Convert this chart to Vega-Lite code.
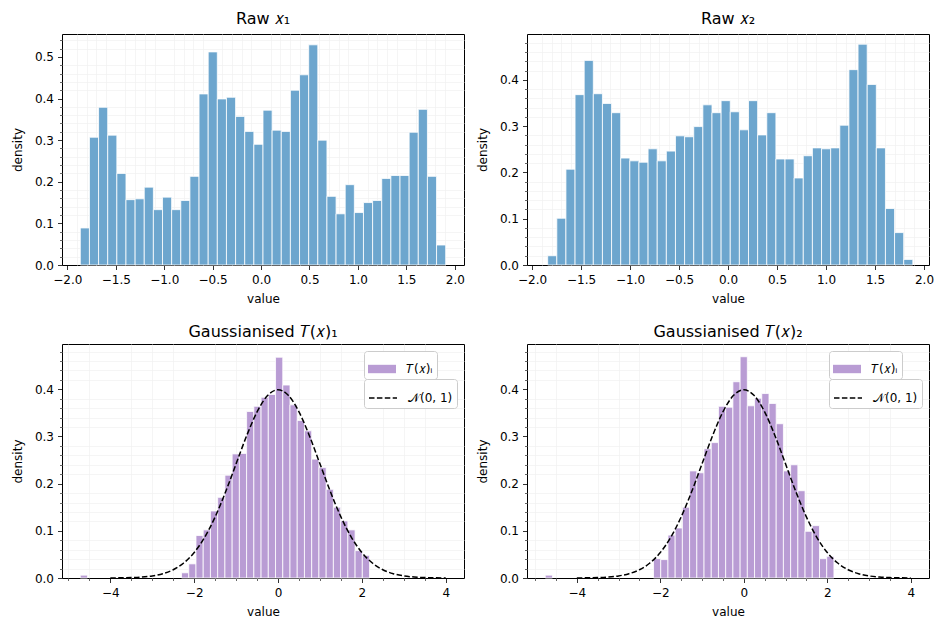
{
  "$schema": "https://vega.github.io/schema/vega-lite/v6.json",
  "padding": {"left": 10, "top": 10, "right": 5, "bottom": 5},
  "bounds": "flush",
  "columns": 2,
  "spacing": {"row": 79, "column": 63},
  "datasets": {
    "hist": [
      {"panel": "raw1", "bin_start": -1.866, "bin_end": -1.7717, "density": 0.089},
      {"panel": "raw1", "bin_start": -1.7717, "bin_end": -1.6774, "density": 0.307},
      {"panel": "raw1", "bin_start": -1.6774, "bin_end": -1.5831, "density": 0.379},
      {"panel": "raw1", "bin_start": -1.5831, "bin_end": -1.4888, "density": 0.312},
      {"panel": "raw1", "bin_start": -1.4888, "bin_end": -1.3945, "density": 0.220},
      {"panel": "raw1", "bin_start": -1.3945, "bin_end": -1.3002, "density": 0.157},
      {"panel": "raw1", "bin_start": -1.3002, "bin_end": -1.2059, "density": 0.159},
      {"panel": "raw1", "bin_start": -1.2059, "bin_end": -1.1116, "density": 0.187},
      {"panel": "raw1", "bin_start": -1.1116, "bin_end": -1.0173, "density": 0.133},
      {"panel": "raw1", "bin_start": -1.0173, "bin_end": -0.923, "density": 0.163},
      {"panel": "raw1", "bin_start": -0.923, "bin_end": -0.8287, "density": 0.133},
      {"panel": "raw1", "bin_start": -0.8287, "bin_end": -0.7344, "density": 0.155},
      {"panel": "raw1", "bin_start": -0.7344, "bin_end": -0.6401, "density": 0.213},
      {"panel": "raw1", "bin_start": -0.6401, "bin_end": -0.5458, "density": 0.411},
      {"panel": "raw1", "bin_start": -0.5458, "bin_end": -0.4515, "density": 0.512},
      {"panel": "raw1", "bin_start": -0.4515, "bin_end": -0.3572, "density": 0.399},
      {"panel": "raw1", "bin_start": -0.3572, "bin_end": -0.2629, "density": 0.403},
      {"panel": "raw1", "bin_start": -0.2629, "bin_end": -0.1686, "density": 0.357},
      {"panel": "raw1", "bin_start": -0.1686, "bin_end": -0.0743, "density": 0.321},
      {"panel": "raw1", "bin_start": -0.0743, "bin_end": 0.02, "density": 0.290},
      {"panel": "raw1", "bin_start": 0.02, "bin_end": 0.1143, "density": 0.372},
      {"panel": "raw1", "bin_start": 0.1143, "bin_end": 0.2086, "density": 0.324},
      {"panel": "raw1", "bin_start": 0.2086, "bin_end": 0.3029, "density": 0.321},
      {"panel": "raw1", "bin_start": 0.3029, "bin_end": 0.3972, "density": 0.420},
      {"panel": "raw1", "bin_start": 0.3972, "bin_end": 0.4915, "density": 0.457},
      {"panel": "raw1", "bin_start": 0.4915, "bin_end": 0.5858, "density": 0.529},
      {"panel": "raw1", "bin_start": 0.5858, "bin_end": 0.6801, "density": 0.300},
      {"panel": "raw1", "bin_start": 0.6801, "bin_end": 0.7744, "density": 0.165},
      {"panel": "raw1", "bin_start": 0.7744, "bin_end": 0.8687, "density": 0.123},
      {"panel": "raw1", "bin_start": 0.8687, "bin_end": 0.963, "density": 0.193},
      {"panel": "raw1", "bin_start": 0.963, "bin_end": 1.0573, "density": 0.126},
      {"panel": "raw1", "bin_start": 1.0573, "bin_end": 1.1516, "density": 0.150},
      {"panel": "raw1", "bin_start": 1.1516, "bin_end": 1.2459, "density": 0.155},
      {"panel": "raw1", "bin_start": 1.2459, "bin_end": 1.3402, "density": 0.208},
      {"panel": "raw1", "bin_start": 1.3402, "bin_end": 1.4345, "density": 0.215},
      {"panel": "raw1", "bin_start": 1.4345, "bin_end": 1.5288, "density": 0.215},
      {"panel": "raw1", "bin_start": 1.5288, "bin_end": 1.6231, "density": 0.319},
      {"panel": "raw1", "bin_start": 1.6231, "bin_end": 1.7174, "density": 0.374},
      {"panel": "raw1", "bin_start": 1.7174, "bin_end": 1.8117, "density": 0.213},
      {"panel": "raw1", "bin_start": 1.8117, "bin_end": 1.906, "density": 0.048},

      {"panel": "raw2", "bin_start": -1.84, "bin_end": -1.7469, "density": 0.020},
      {"panel": "raw2", "bin_start": -1.7469, "bin_end": -1.6537, "density": 0.101},
      {"panel": "raw2", "bin_start": -1.6537, "bin_end": -1.5606, "density": 0.207},
      {"panel": "raw2", "bin_start": -1.5606, "bin_end": -1.4674, "density": 0.368},
      {"panel": "raw2", "bin_start": -1.4674, "bin_end": -1.3743, "density": 0.442},
      {"panel": "raw2", "bin_start": -1.3743, "bin_end": -1.2811, "density": 0.370},
      {"panel": "raw2", "bin_start": -1.2811, "bin_end": -1.188, "density": 0.349},
      {"panel": "raw2", "bin_start": -1.188, "bin_end": -1.0948, "density": 0.329},
      {"panel": "raw2", "bin_start": -1.0948, "bin_end": -1.0017, "density": 0.231},
      {"panel": "raw2", "bin_start": -1.0017, "bin_end": -0.9085, "density": 0.225},
      {"panel": "raw2", "bin_start": -0.9085, "bin_end": -0.8154, "density": 0.222},
      {"panel": "raw2", "bin_start": -0.8154, "bin_end": -0.7222, "density": 0.251},
      {"panel": "raw2", "bin_start": -0.7222, "bin_end": -0.6291, "density": 0.225},
      {"panel": "raw2", "bin_start": -0.6291, "bin_end": -0.5359, "density": 0.246},
      {"panel": "raw2", "bin_start": -0.5359, "bin_end": -0.4428, "density": 0.279},
      {"panel": "raw2", "bin_start": -0.4428, "bin_end": -0.3496, "density": 0.277},
      {"panel": "raw2", "bin_start": -0.3496, "bin_end": -0.2565, "density": 0.299},
      {"panel": "raw2", "bin_start": -0.2565, "bin_end": -0.1633, "density": 0.346},
      {"panel": "raw2", "bin_start": -0.1633, "bin_end": -0.0702, "density": 0.329},
      {"panel": "raw2", "bin_start": -0.0702, "bin_end": 0.023, "density": 0.355},
      {"panel": "raw2", "bin_start": 0.023, "bin_end": 0.1162, "density": 0.331},
      {"panel": "raw2", "bin_start": 0.1162, "bin_end": 0.2093, "density": 0.292},
      {"panel": "raw2", "bin_start": 0.2093, "bin_end": 0.3025, "density": 0.355},
      {"panel": "raw2", "bin_start": 0.3025, "bin_end": 0.3956, "density": 0.281},
      {"panel": "raw2", "bin_start": 0.3956, "bin_end": 0.4888, "density": 0.329},
      {"panel": "raw2", "bin_start": 0.4888, "bin_end": 0.5819, "density": 0.229},
      {"panel": "raw2", "bin_start": 0.5819, "bin_end": 0.6751, "density": 0.229},
      {"panel": "raw2", "bin_start": 0.6751, "bin_end": 0.7682, "density": 0.188},
      {"panel": "raw2", "bin_start": 0.7682, "bin_end": 0.8614, "density": 0.236},
      {"panel": "raw2", "bin_start": 0.8614, "bin_end": 0.9545, "density": 0.253},
      {"panel": "raw2", "bin_start": 0.9545, "bin_end": 1.0477, "density": 0.251},
      {"panel": "raw2", "bin_start": 1.0477, "bin_end": 1.1408, "density": 0.253},
      {"panel": "raw2", "bin_start": 1.1408, "bin_end": 1.234, "density": 0.302},
      {"panel": "raw2", "bin_start": 1.234, "bin_end": 1.3271, "density": 0.422},
      {"panel": "raw2", "bin_start": 1.3271, "bin_end": 1.4203, "density": 0.477},
      {"panel": "raw2", "bin_start": 1.4203, "bin_end": 1.5134, "density": 0.390},
      {"panel": "raw2", "bin_start": 1.5134, "bin_end": 1.6066, "density": 0.253},
      {"panel": "raw2", "bin_start": 1.6066, "bin_end": 1.6997, "density": 0.122},
      {"panel": "raw2", "bin_start": 1.6997, "bin_end": 1.7929, "density": 0.070},
      {"panel": "raw2", "bin_start": 1.7929, "bin_end": 1.886, "density": 0.012},

      {"panel": "gauss1", "bin_start": -4.717, "bin_end": -4.5445, "density": 0.006},
      {"panel": "gauss1", "bin_start": -2.302, "bin_end": -2.1295, "density": 0.011},
      {"panel": "gauss1", "bin_start": -2.1295, "bin_end": -1.957, "density": 0.030},
      {"panel": "gauss1", "bin_start": -1.957, "bin_end": -1.7845, "density": 0.090},
      {"panel": "gauss1", "bin_start": -1.7845, "bin_end": -1.612, "density": 0.102},
      {"panel": "gauss1", "bin_start": -1.612, "bin_end": -1.4395, "density": 0.142},
      {"panel": "gauss1", "bin_start": -1.4395, "bin_end": -1.267, "density": 0.171},
      {"panel": "gauss1", "bin_start": -1.267, "bin_end": -1.0945, "density": 0.218},
      {"panel": "gauss1", "bin_start": -1.0945, "bin_end": -0.922, "density": 0.263},
      {"panel": "gauss1", "bin_start": -0.922, "bin_end": -0.7495, "density": 0.264},
      {"panel": "gauss1", "bin_start": -0.7495, "bin_end": -0.577, "density": 0.353},
      {"panel": "gauss1", "bin_start": -0.577, "bin_end": -0.4045, "density": 0.364},
      {"panel": "gauss1", "bin_start": -0.4045, "bin_end": -0.232, "density": 0.383},
      {"panel": "gauss1", "bin_start": -0.232, "bin_end": -0.0595, "density": 0.389},
      {"panel": "gauss1", "bin_start": -0.0595, "bin_end": 0.113, "density": 0.468},
      {"panel": "gauss1", "bin_start": 0.113, "bin_end": 0.2855, "density": 0.409},
      {"panel": "gauss1", "bin_start": 0.2855, "bin_end": 0.458, "density": 0.367},
      {"panel": "gauss1", "bin_start": 0.458, "bin_end": 0.6305, "density": 0.334},
      {"panel": "gauss1", "bin_start": 0.6305, "bin_end": 0.803, "density": 0.312},
      {"panel": "gauss1", "bin_start": 0.803, "bin_end": 0.9755, "density": 0.252},
      {"panel": "gauss1", "bin_start": 0.9755, "bin_end": 1.148, "density": 0.234},
      {"panel": "gauss1", "bin_start": 1.148, "bin_end": 1.3205, "density": 0.188},
      {"panel": "gauss1", "bin_start": 1.3205, "bin_end": 1.493, "density": 0.150},
      {"panel": "gauss1", "bin_start": 1.493, "bin_end": 1.6655, "density": 0.121},
      {"panel": "gauss1", "bin_start": 1.6655, "bin_end": 1.838, "density": 0.102},
      {"panel": "gauss1", "bin_start": 1.838, "bin_end": 2.0105, "density": 0.058},
      {"panel": "gauss1", "bin_start": 2.0105, "bin_end": 2.183, "density": 0.048},

      {"panel": "gauss2", "bin_start": -4.756, "bin_end": -4.5831, "density": 0.006},
      {"panel": "gauss2", "bin_start": -2.1625, "bin_end": -1.9896, "density": 0.041},
      {"panel": "gauss2", "bin_start": -1.9896, "bin_end": -1.8167, "density": 0.039},
      {"panel": "gauss2", "bin_start": -1.8167, "bin_end": -1.6438, "density": 0.091},
      {"panel": "gauss2", "bin_start": -1.6438, "bin_end": -1.4709, "density": 0.106},
      {"panel": "gauss2", "bin_start": -1.4709, "bin_end": -1.298, "density": 0.150},
      {"panel": "gauss2", "bin_start": -1.298, "bin_end": -1.1251, "density": 0.227},
      {"panel": "gauss2", "bin_start": -1.1251, "bin_end": -0.9522, "density": 0.223},
      {"panel": "gauss2", "bin_start": -0.9522, "bin_end": -0.7793, "density": 0.274},
      {"panel": "gauss2", "bin_start": -0.7793, "bin_end": -0.6064, "density": 0.287},
      {"panel": "gauss2", "bin_start": -0.6064, "bin_end": -0.4335, "density": 0.364},
      {"panel": "gauss2", "bin_start": -0.4335, "bin_end": -0.2606, "density": 0.362},
      {"panel": "gauss2", "bin_start": -0.2606, "bin_end": -0.0877, "density": 0.416},
      {"panel": "gauss2", "bin_start": -0.0877, "bin_end": 0.0852, "density": 0.469},
      {"panel": "gauss2", "bin_start": 0.0852, "bin_end": 0.2581, "density": 0.365},
      {"panel": "gauss2", "bin_start": 0.2581, "bin_end": 0.431, "density": 0.381},
      {"panel": "gauss2", "bin_start": 0.431, "bin_end": 0.6039, "density": 0.391},
      {"panel": "gauss2", "bin_start": 0.6039, "bin_end": 0.7768, "density": 0.370},
      {"panel": "gauss2", "bin_start": 0.7768, "bin_end": 0.9497, "density": 0.327},
      {"panel": "gauss2", "bin_start": 0.9497, "bin_end": 1.1226, "density": 0.227},
      {"panel": "gauss2", "bin_start": 1.1226, "bin_end": 1.2955, "density": 0.240},
      {"panel": "gauss2", "bin_start": 1.2955, "bin_end": 1.4684, "density": 0.185},
      {"panel": "gauss2", "bin_start": 1.4684, "bin_end": 1.6413, "density": 0.099},
      {"panel": "gauss2", "bin_start": 1.6413, "bin_end": 1.8142, "density": 0.111},
      {"panel": "gauss2", "bin_start": 1.8142, "bin_end": 1.9871, "density": 0.041},
      {"panel": "gauss2", "bin_start": 1.9871, "bin_end": 2.16, "density": 0.046}
    ],
    "normal": [
      {"value": -4.0, "pdf": 0.000134}, {"value": -3.75, "pdf": 0.000353},
      {"value": -3.5, "pdf": 0.000873}, {"value": -3.25, "pdf": 0.002029},
      {"value": -3.0, "pdf": 0.004432}, {"value": -2.75, "pdf": 0.009094},
      {"value": -2.5, "pdf": 0.017528}, {"value": -2.25, "pdf": 0.03174},
      {"value": -2.0, "pdf": 0.053991}, {"value": -1.75, "pdf": 0.086277},
      {"value": -1.5, "pdf": 0.129518}, {"value": -1.25, "pdf": 0.182649},
      {"value": -1.0, "pdf": 0.241971}, {"value": -0.75, "pdf": 0.301137},
      {"value": -0.5, "pdf": 0.352065}, {"value": -0.25, "pdf": 0.386668},
      {"value": 0.0, "pdf": 0.398942},
      {"value": 0.25, "pdf": 0.386668}, {"value": 0.5, "pdf": 0.352065},
      {"value": 0.75, "pdf": 0.301137}, {"value": 1.0, "pdf": 0.241971},
      {"value": 1.25, "pdf": 0.182649}, {"value": 1.5, "pdf": 0.129518},
      {"value": 1.75, "pdf": 0.086277}, {"value": 2.0, "pdf": 0.053991},
      {"value": 2.25, "pdf": 0.03174}, {"value": 2.5, "pdf": 0.017528},
      {"value": 2.75, "pdf": 0.009094}, {"value": 3.0, "pdf": 0.004432},
      {"value": 3.25, "pdf": 0.002029}, {"value": 3.5, "pdf": 0.000873},
      {"value": 3.75, "pdf": 0.000353}, {"value": 4.0, "pdf": 0.000134}
    ]
  },
  "concat": [
    {
      "title": {"text": "Raw 𝑥₁"},
      "width": 402, "height": 231,
      "data": {"name": "hist"},
      "transform": [{"filter": "datum.panel === 'raw1'"}],
      "layer": [
        {
          "mark": {"type": "point", "opacity": 0},
          "encoding": {
            "x": {"field": "bin_start", "type": "quantitative", "scale": {"domain": [-2.055, 2.095], "nice": false, "zero": false},
              "axis": {"orient": "bottom", "values": [-1.9,-1.8,-1.7,-1.6,-1.4,-1.3,-1.2,-1.1,-0.9,-0.8,-0.7,-0.6,-0.4,-0.3,-0.2,-0.1,0.1,0.2,0.3,0.4,0.6,0.7,0.8,0.9,1.1,1.2,1.3,1.4,1.6,1.7,1.8,1.9], "labels": false, "title": null, "ticks": false, "gridColor": "#f0f0f0", "gridWidth": 0.7}},
            "y": {"field": "density", "type": "quantitative", "scale": {"domain": [0, 0.555], "nice": false},
              "axis": {"orient": "left", "values": [0.02,0.04,0.06,0.08,0.12,0.14,0.16,0.18,0.22,0.24,0.26,0.28,0.32,0.34,0.36,0.38,0.42,0.44,0.46,0.48,0.52,0.54], "labels": false, "title": null, "tickSize": 2.5, "tickWidth": 0.6, "gridColor": "#f0f0f0", "gridWidth": 0.7}}
          }
        },
        {
          "mark": {"type": "bar", "color": "#6da6ce", "stroke": "white", "strokeWidth": 0.8},
          "encoding": {
            "x": {"field": "bin_start", "type": "quantitative", "axis": {"orient": "bottom", "values": [-2,-1.5,-1,-0.5,0,0.5,1,1.5,2], "format": ".1f", "title": "value"}},
            "x2": {"field": "bin_end"},
            "y": {"field": "density", "type": "quantitative", "axis": {"orient": "left", "values": [0,0.1,0.2,0.3,0.4,0.5], "format": ".1f", "title": "density"}},
            "y2": {"datum": 0}
          }
        }
      ],
      "resolve": {"axis": {"x": "independent", "y": "independent"}}
    },
    {
      "title": {"text": "Raw 𝑥₂"},
      "width": 402, "height": 231,
      "data": {"name": "hist"},
      "transform": [{"filter": "datum.panel === 'raw2'"}],
      "layer": [
        {
          "mark": {"type": "point", "opacity": 0},
          "encoding": {
            "x": {"field": "bin_start", "type": "quantitative", "scale": {"domain": [-2.051, 2.051], "nice": false, "zero": false},
              "axis": {"orient": "bottom", "values": [-1.9,-1.8,-1.7,-1.6,-1.4,-1.3,-1.2,-1.1,-0.9,-0.8,-0.7,-0.6,-0.4,-0.3,-0.2,-0.1,0.1,0.2,0.3,0.4,0.6,0.7,0.8,0.9,1.1,1.2,1.3,1.4,1.6,1.7,1.8,1.9], "labels": false, "title": null, "ticks": false, "gridColor": "#f0f0f0", "gridWidth": 0.7}},
            "y": {"field": "density", "type": "quantitative", "scale": {"domain": [0, 0.499], "nice": false},
              "axis": {"orient": "left", "values": [0.02,0.04,0.06,0.08,0.12,0.14,0.16,0.18,0.22,0.24,0.26,0.28,0.32,0.34,0.36,0.38,0.42,0.44,0.46,0.48], "labels": false, "title": null, "tickSize": 2.5, "tickWidth": 0.6, "gridColor": "#f0f0f0", "gridWidth": 0.7}}
          }
        },
        {
          "mark": {"type": "bar", "color": "#6da6ce", "stroke": "white", "strokeWidth": 0.8},
          "encoding": {
            "x": {"field": "bin_start", "type": "quantitative", "axis": {"orient": "bottom", "values": [-2,-1.5,-1,-0.5,0,0.5,1,1.5,2], "format": ".1f", "title": "value"}},
            "x2": {"field": "bin_end"},
            "y": {"field": "density", "type": "quantitative", "axis": {"orient": "left", "values": [0,0.1,0.2,0.3,0.4], "format": ".1f", "title": "density"}},
            "y2": {"datum": 0}
          }
        }
      ],
      "resolve": {"axis": {"x": "independent", "y": "independent"}}
    },
    {
      "title": {"text": "Gaussianised 𝑇(𝑥)₁", "offset": 4},
      "width": 402, "height": 234,
      "layer": [
        {
          "data": {"name": "hist"},
          "transform": [{"filter": "datum.panel === 'gauss1'"}],
          "mark": {"type": "point", "opacity": 0},
          "encoding": {
            "x": {"field": "bin_start", "type": "quantitative", "scale": {"domain": [-5.153, 4.436], "nice": false, "zero": false},
              "axis": {"orient": "bottom", "values": [-5,-4.5,-3.5,-3,-2.5,-1.5,-1,-0.5,0.5,1,1.5,2.5,3,3.5], "labels": false, "title": null, "tickSize": 2.5, "tickWidth": 0.6, "gridColor": "#f0f0f0", "gridWidth": 0.7}},
            "y": {"field": "density", "type": "quantitative", "scale": {"domain": [0, 0.496], "nice": false},
              "axis": {"orient": "left", "values": [0.02,0.04,0.06,0.08,0.12,0.14,0.16,0.18,0.22,0.24,0.26,0.28,0.32,0.34,0.36,0.38,0.42,0.44,0.46,0.48], "labels": false, "title": null, "tickSize": 2.5, "tickWidth": 0.6, "gridColor": "#f0f0f0", "gridWidth": 0.7}}
          }
        },
        {
          "data": {"name": "hist"},
          "transform": [{"filter": "datum.panel === 'gauss1'"}],
          "mark": {"type": "bar", "stroke": "white", "strokeWidth": 0.8, "opacity": 1},
          "encoding": {
            "x": {"field": "bin_start", "type": "quantitative", "axis": {"orient": "bottom", "values": [-4,-2,0,2,4], "format": "d", "title": "value"}},
            "x2": {"field": "bin_end"},
            "y": {"field": "density", "type": "quantitative", "axis": {"orient": "left", "values": [0,0.1,0.2,0.3,0.4], "format": ".1f", "title": "density"}},
            "y2": {"datum": 0},
            "color": {"datum": "𝑇(𝑥)ᵢ", "scale": {"domain": ["𝑇(𝑥)ᵢ"], "range": ["#b99cd4"]},
              "legend": {
                "title": null, "orient": "top-right", "offset": 7,
                "fillColor": "white", "strokeColor": "#cccccc", "cornerRadius": 3, "padding": 4,
                "labelFontSize": 12, "labelFont": "DejaVu Sans", "labelColor": "black",
                "labelExpr": "datum.label + '\u00a0\u00a0\u00a0\u00a0\u00a0\u00a0\u00a0'",
                "symbolType": "M-1,-0.3H1V0.3H-1Z", "symbolSize": 784, "symbolStrokeWidth": 0, "labelOffset": 10
              }}
          }
        },
        {
          "data": {"name": "normal"},
          "mark": {"type": "line", "color": "#000000", "strokeWidth": 1.5, "interpolate": "monotone"},
          "encoding": {
            "x": {"field": "value", "type": "quantitative", "axis": null},
            "y": {"field": "pdf", "type": "quantitative", "axis": null},
            "strokeDash": {"datum": "𝒩(0, 1)", "scale": {"domain": ["𝒩(0, 1)"], "range": [[5.5, 2.4]]},
              "legend": {
                "title": null, "orient": "top-right", "offset": 7,
                "fillColor": "white", "strokeColor": "#cccccc", "cornerRadius": 3, "padding": 4,
                "labelFontSize": 12, "labelFont": "DejaVu Sans", "labelColor": "black",
                "symbolType": "stroke", "symbolSize": 784, "symbolStrokeColor": "#000000", "symbolStrokeWidth": 1.5, "labelOffset": 10
              }}
          }
        }
      ],
      "resolve": {"axis": {"x": "independent", "y": "independent"}}
    },
    {
      "title": {"text": "Gaussianised 𝑇(𝑥)₂", "offset": 4},
      "width": 402, "height": 234,
      "layer": [
        {
          "data": {"name": "hist"},
          "transform": [{"filter": "datum.panel === 'gauss2'"}],
          "mark": {"type": "point", "opacity": 0},
          "encoding": {
            "x": {"field": "bin_start", "type": "quantitative", "scale": {"domain": [-5.194, 4.438], "nice": false, "zero": false},
              "axis": {"orient": "bottom", "values": [-5,-4.5,-3.5,-3,-2.5,-1.5,-1,-0.5,0.5,1,1.5,2.5,3,3.5], "labels": false, "title": null, "tickSize": 2.5, "tickWidth": 0.6, "gridColor": "#f0f0f0", "gridWidth": 0.7}},
            "y": {"field": "density", "type": "quantitative", "scale": {"domain": [0, 0.496], "nice": false},
              "axis": {"orient": "left", "values": [0.02,0.04,0.06,0.08,0.12,0.14,0.16,0.18,0.22,0.24,0.26,0.28,0.32,0.34,0.36,0.38,0.42,0.44,0.46,0.48], "labels": false, "title": null, "tickSize": 2.5, "tickWidth": 0.6, "gridColor": "#f0f0f0", "gridWidth": 0.7}}
          }
        },
        {
          "data": {"name": "hist"},
          "transform": [{"filter": "datum.panel === 'gauss2'"}],
          "mark": {"type": "bar", "stroke": "white", "strokeWidth": 0.8, "opacity": 1},
          "encoding": {
            "x": {"field": "bin_start", "type": "quantitative", "axis": {"orient": "bottom", "values": [-4,-2,0,2,4], "format": "d", "title": "value"}},
            "x2": {"field": "bin_end"},
            "y": {"field": "density", "type": "quantitative", "axis": {"orient": "left", "values": [0,0.1,0.2,0.3,0.4], "format": ".1f", "title": "density"}},
            "y2": {"datum": 0},
            "color": {"datum": "𝑇(𝑥)ᵢ", "scale": {"domain": ["𝑇(𝑥)ᵢ"], "range": ["#b99cd4"]},
              "legend": {
                "title": null, "orient": "top-right", "offset": 7,
                "fillColor": "white", "strokeColor": "#cccccc", "cornerRadius": 3, "padding": 4,
                "labelFontSize": 12, "labelFont": "DejaVu Sans", "labelColor": "black",
                "labelExpr": "datum.label + '\u00a0\u00a0\u00a0\u00a0\u00a0\u00a0\u00a0'",
                "symbolType": "M-1,-0.3H1V0.3H-1Z", "symbolSize": 784, "symbolStrokeWidth": 0, "labelOffset": 10
              }}
          }
        },
        {
          "data": {"name": "normal"},
          "mark": {"type": "line", "color": "#000000", "strokeWidth": 1.5, "interpolate": "monotone"},
          "encoding": {
            "x": {"field": "value", "type": "quantitative", "axis": null},
            "y": {"field": "pdf", "type": "quantitative", "axis": null},
            "strokeDash": {"datum": "𝒩(0, 1)", "scale": {"domain": ["𝒩(0, 1)"], "range": [[5.5, 2.4]]},
              "legend": {
                "title": null, "orient": "top-right", "offset": 7,
                "fillColor": "white", "strokeColor": "#cccccc", "cornerRadius": 3, "padding": 4,
                "labelFontSize": 12, "labelFont": "DejaVu Sans", "labelColor": "black",
                "symbolType": "stroke", "symbolSize": 784, "symbolStrokeColor": "#000000", "symbolStrokeWidth": 1.5, "labelOffset": 10
              }}
          }
        }
      ],
      "resolve": {"axis": {"x": "independent", "y": "independent"}}
    }
  ],
  "resolve": {"scale": {"x": "independent", "y": "independent", "color": "independent", "strokeDash": "independent"}, "legend": {"color": "independent", "strokeDash": "independent"}},
  "config": {
    "font": "DejaVu Sans",
    "view": {"stroke": "black", "strokeWidth": 1},
    "title": {"fontSize": 16, "font": "DejaVu Sans", "fontWeight": "normal", "color": "black", "offset": 7, "anchor": "middle"},
    "legend": {"layout": {"top-right": {"anchor": "start", "direction": "vertical", "margin": -1}}},
    "axis": {
      "labelFont": "DejaVu Sans", "titleFont": "DejaVu Sans",
      "labelFontSize": 12, "titleFontSize": 12, "titleFontWeight": "normal",
      "labelColor": "#000000", "titleColor": "#000000",
      "tickColor": "#000000", "tickSize": 4.5, "tickWidth": 0.8,
      "domain": false, "labelPadding": 4, "labelFlush": false, "labelOverlap": false,
      "gridColor": "#dedede", "gridWidth": 0.8
    },
    "axisX": {"titlePadding": 8, "labelPadding": 5},
    "axisY": {"titlePadding": 10}
  }
}
